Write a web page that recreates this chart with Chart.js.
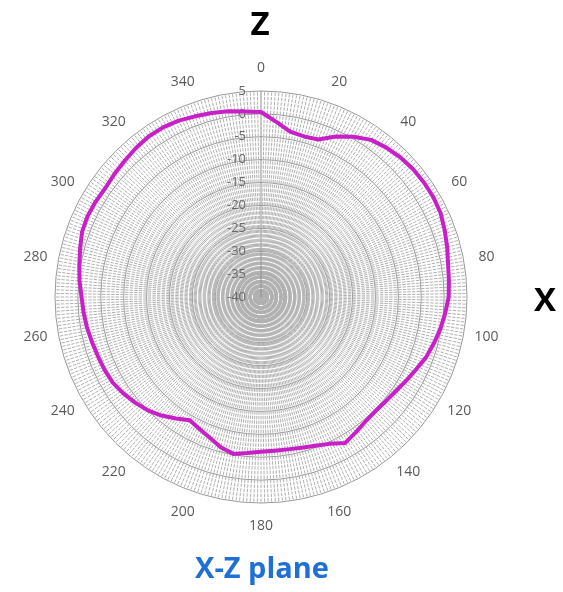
<!DOCTYPE html>
<html>
<head>
<meta charset="utf-8">
<script src="https://cdn.jsdelivr.net/npm/chart.js@4/dist/chart.umd.min.js"></script>
<style>
  html, body { margin: 0; padding: 0; background: #fff; }
  #wrap { position: relative; width: 563px; height: 592px; overflow: hidden; }
  #c { position: absolute; left: 0; top: 0; }
  .ttl { position: absolute; font-family: 'Open Sans', sans-serif; font-weight: 700; transform: translate(-50%, -50%); white-space: nowrap; }
</style>
</head>
<body>
<div id="wrap">
  <canvas id="c" width="563" height="592"></canvas>
  <div class="ttl" style="left:260px;top:22px;font-size:33px;color:#000">Z</div>
  <div class="ttl" style="left:545px;top:298px;font-size:33px;color:#000">X</div>
  <div class="ttl" style="left:262px;top:566px;font-size:29px;color:#1f6fd6">X-Z plane</div>
</div>
<script>
// angulos 0..359 (uma categoria por grau), rotulos a cada 20
const degrees = Array.from({ length: 360 }, (_, i) => i);
const axisLabels = [0, 20, 40, 60, 80, 100, 120, 140, 160, 180, 200, 220, 240, 260, 280, 300, 320, 340];
const tickValues = [5, 0, -5, -10, -15, -20, -25, -30, -35, -40];

// ganho (dB), a cada 5 graus
const gainDb = [
  0.4, -1.6, -3.3, -3.7, -3.4, -1.3, 0.4, 1.9, 2.6, 3.1,        // 0-45
  3.4, 3.5, 3.5, 3.3, 2.7, 2.1, 1.5, 1.2, 1.0, 0.4,             // 50-95
  -0.2, -0.9, -1.6, -2.6, -3.4, -4.1, -4.5, -4.7, -4.5, -3.9,   // 100-145
  -3.2, -4.6, -5.4, -5.9, -6.2, -6.3, -6.2, -5.8, -5.2, -6.0,   // 150-195
  -7.3, -8.2, -8.9, -7.6, -6.2, -5.0, -4.1, -3.3, -2.6, -2.3,   // 200-245
  -2.1, -1.8, -1.4, -1.1, -0.8, -0.2, 0.3, 0.9, 1.6, 1.8,       // 250-295
  1.7, 1.5, 1.8, 2.1, 2.5, 2.8, 2.8, 2.5, 2.0, 1.6,             // 300-345
  1.2, 0.7                                                      // 350-355
];
const STEP = 5;

// serie com 360 posicoes, so os graus medidos tem valor
const series = degrees.map((d) => (d % STEP === 0 ? gainDb[d / STEP] : null));

const polarText = {
  id: 'polarText',
  beforeDatasetsDraw(chart) {
    const s = chart.scales.r;
    const ctx = chart.ctx;
    ctx.save();
    ctx.textBaseline = 'middle';
    ctx.font = '13px "Open Sans", sans-serif';
    ctx.fillStyle = '#6a6a6a';
    ctx.textAlign = 'right';
    tickValues.forEach((v) => {
      ctx.fillText(String(v), s.xCenter - 15, s.yCenter - s.getDistanceFromCenterForValue(v));
    });
    ctx.font = '14px "Open Sans", sans-serif';
    ctx.fillStyle = '#5a5a5a';
    ctx.textAlign = 'center';
    axisLabels.forEach((a) => {
      const p = s.getPointPosition(a, s.drawingArea + 23);
      ctx.fillText(String(a), p.x, p.y);
    });
    ctx.restore();
  },
};

new Chart(document.getElementById('c'), {
  type: 'radar',
  data: {
    labels: degrees,
    datasets: [{
      data: series,
      spanGaps: true,
      borderColor: '#c81fc8',
      borderWidth: 4,
      borderJoinStyle: 'round',
      pointRadius: 0,
      fill: false,
      tension: 0,
    }],
  },
  options: {
    responsive: false,
    animation: false,
    layout: { padding: { left: 55, right: 96, top: 91, bottom: 89 } },
    plugins: { legend: { display: false }, tooltip: { enabled: false } },
    scales: {
      r: {
        min: -40,
        max: 5,
        ticks: { stepSize: 5, display: false },
        pointLabels: { display: false },
        grid: { circular: true, color: '#999999', lineWidth: 1 },
        angleLines: {
          color: (c) => (c.index === 0 ? '#8f8f8f' : '#b0b0b0'),
          lineWidth: 1,
          borderDash: (c) => {
            if (c.index === 0) return [];
            const s = c.chart.scales.r;
            const u = s.drawingArea / (s.max - s.min);
            return [u - 1.2, 1.2];
          },
        },
      },
    },
  },
  plugins: [polarText],
});
</script>
</body>
</html>
